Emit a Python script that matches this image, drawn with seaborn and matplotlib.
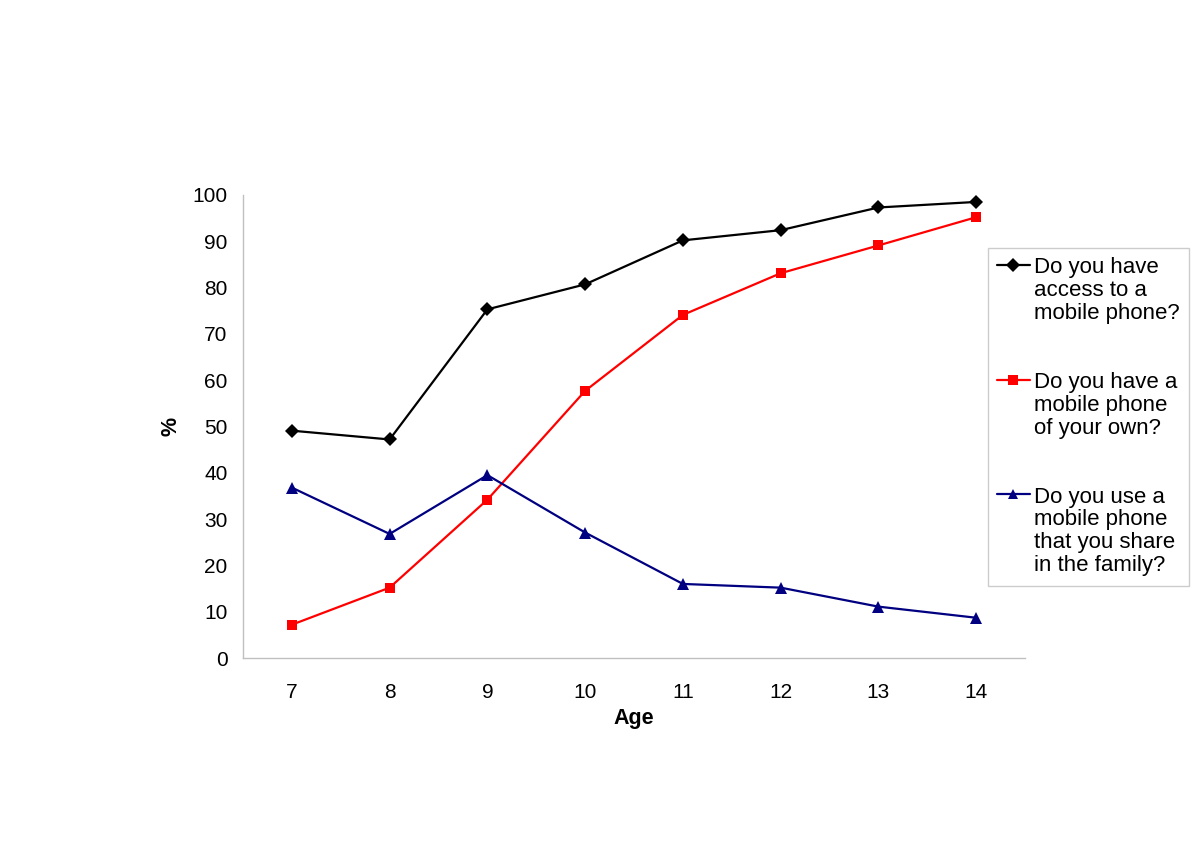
import pandas as pd
import matplotlib.pyplot as plt
import seaborn as sns
from matplotlib.ticker import FixedLocator

ages = [7, 8, 9, 10, 11, 12, 13, 14]
access = [49.1, 47.2, 75.3, 80.7, 90.2, 92.4, 97.3, 98.5]
own = [7.2, 15.2, 34.2, 57.7, 74.1, 83.1, 89.1, 95.2]
shared = [36.8, 26.8, 39.5, 27.1, 16.0, 15.2, 11.1, 8.7]

labels = ["Do you have\naccess to a\nmobile phone?",
          "Do you have a\nmobile phone\nof your own?",
          "Do you use a\nmobile phone\nthat you share\nin the family?"]

df = pd.DataFrame({
    "Age": ages * 3,
    "Value": access + own + shared,
    "Question": [labels[0]] * 8 + [labels[1]] * 8 + [labels[2]] * 8,
})

sns.set_style("white")
plt.rcParams['font.family'] = ['Liberation Sans', 'DejaVu Sans']
plt.rcParams['text.color'] = 'black'
plt.rcParams['axes.labelcolor'] = 'black'
plt.rcParams['xtick.color'] = 'black'
plt.rcParams['ytick.color'] = 'black'

fig = plt.figure(figsize=(12, 8.47), dpi=100)
ax = fig.add_axes([0.2025, 0.2231, 0.6517, 0.5467])

sns.lineplot(data=df, x="Age", y="Value", hue="Question", style="Question",
             palette=["black", "#FF0000", "#000080"],
             markers=["D", "s", "^"], dashes=False,
             linewidth=1.6, markersize=7.5, markeredgewidth=0, ax=ax)
ax.lines[2].set_markersize(9)

ax.set_xlim(6.5, 14.5)
ax.set_ylim(0, 100)
ax.set_yticks(range(0, 101, 10))
ax.set_xticks(ages)
ax.xaxis.set_minor_locator(FixedLocator([a + 0.5 for a in [6] + ages]))
ax.tick_params(axis='x', which='major', length=0, pad=18, labelsize=15)
ax.tick_params(axis='x', which='minor', length=5, width=1, color='#c0c0c0', direction='out')
ax.tick_params(axis='y', length=5, width=1, color='#c0c0c0', labelcolor='black',
               direction='out', pad=6, labelsize=15)

for s in ['top', 'right']:
    ax.spines[s].set_visible(False)
for s in ['left', 'bottom']:
    ax.spines[s].set_color('#c0c0c0')
    ax.spines[s].set_linewidth(1)

ax.set_xlabel("Age", fontsize=15.5, fontweight='bold', labelpad=4)
ax.set_ylabel("%", fontsize=15.5, fontweight='bold', labelpad=8)

handles, _ = ax.get_legend_handles_labels()
leg = ax.legend(handles, labels, loc='upper left',
                bbox_to_anchor=(988 / 1200, (847 - 248) / 847),
                bbox_transform=fig.transFigure, frameon=True, fancybox=False,
                fontsize=16, handlelength=1.45, handletextpad=0.2,
                labelspacing=2.15, borderpad=0.42, borderaxespad=0)
leg.get_frame().set_edgecolor('#c0c0c0')
leg.get_frame().set_linewidth(1)
for t in leg.get_texts():
    t.set_linespacing(1.12)
for col in leg._legend_handle_box.get_children():
    for item in col.get_children():
        item.align = "top"

fig.savefig("out.png", dpi=100)
